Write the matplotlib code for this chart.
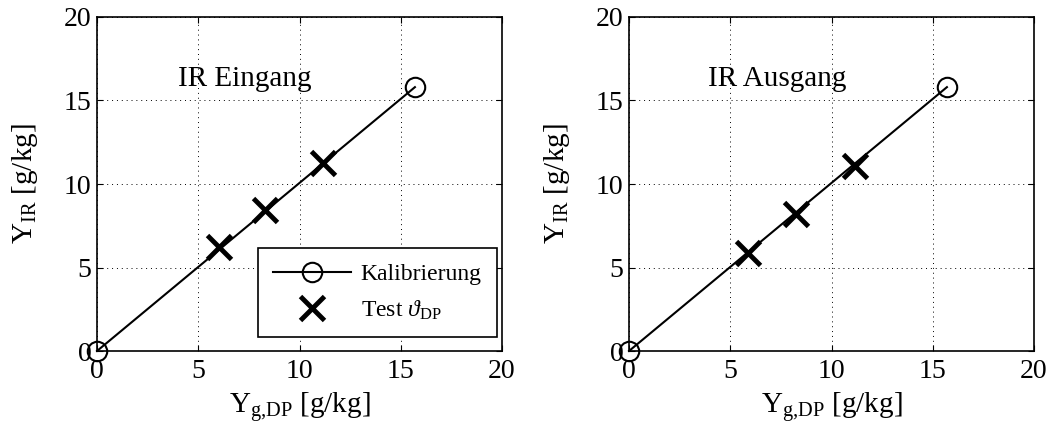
import matplotlib.pyplot as plt
import numpy as np

plt.rcParams['font.family'] = ['Liberation Serif', 'DejaVu Serif']
plt.rcParams['mathtext.fontset'] = 'custom'
plt.rcParams['mathtext.rm'] = 'Liberation Serif'
plt.rcParams['mathtext.it'] = 'Liberation Serif:italic'

# calibration line (both panels)
kal_x = [0.0, 15.7]
kal_y = [0.0, 15.8]

# test points
ein_x = [6.0, 8.3, 11.15]
ein_y = [6.2, 8.45, 11.25]
aus_x = [5.9, 8.25, 11.15]
aus_y = [5.85, 8.2, 11.1]

titles = ['IR Eingang', 'IR Ausgang']
ticks = [0, 5, 10, 15, 20]

fig = plt.figure(figsize=(10.52, 4.36), dpi=100)
ax1 = fig.add_axes([97/1052, 1-351/436, 405/1052, 334/436])
ax2 = fig.add_axes([629/1052, 1-351/436, 405/1052, 334/436])

for ax, tx, ty, title in [(ax1, ein_x, ein_y, titles[0]), (ax2, aus_x, aus_y, titles[1])]:
    ax.plot(kal_x, kal_y, '-', color='k', lw=1.5, marker='o', ms=14,
            mfc='none', mew=1.5, label='Kalibrierung', clip_on=False, zorder=3)
    ax.plot(tx, ty, 'x', color='k', ms=17, mew=3.5,
            label=r'Test $\vartheta_{\mathrm{DP}}$', zorder=4)
    ax.set_xlim(0, 20)
    ax.set_ylim(0, 20)
    ax.set_xticks(ticks)
    ax.set_yticks(ticks)
    ax.grid(True, color='k', linestyle=(0, (1, 4)), lw=0.7)
    ax.tick_params(direction='in', top=True, right=True, labelsize=20, length=4)
    ax.tick_params(axis='x', pad=6)
    ax.tick_params(axis='y', pad=4)
    for s in ax.spines.values():
        s.set_linewidth(1.2)
    ax.set_xlabel(r'Y$_{\mathrm{g{,}DP}}$ [g/kg]', fontsize=21, labelpad=4)
    ax.set_ylabel(r'Y$_{\mathrm{IR}}$ [g/kg]', fontsize=21, labelpad=17)
    ax.text(7.3, 16.3, title, fontsize=21, ha='center', va='center')

leg = ax1.legend(loc='lower right', bbox_to_anchor=(0.988, 0.042), fontsize=17,
                 frameon=True, fancybox=False, edgecolor='k', borderaxespad=0,
                 handlelength=3.3, handletextpad=0.4, borderpad=0.65,
                 labelspacing=0.55, framealpha=1)
leg.get_frame().set_linewidth(1.2)

plt.savefig('out.png', dpi=100)
